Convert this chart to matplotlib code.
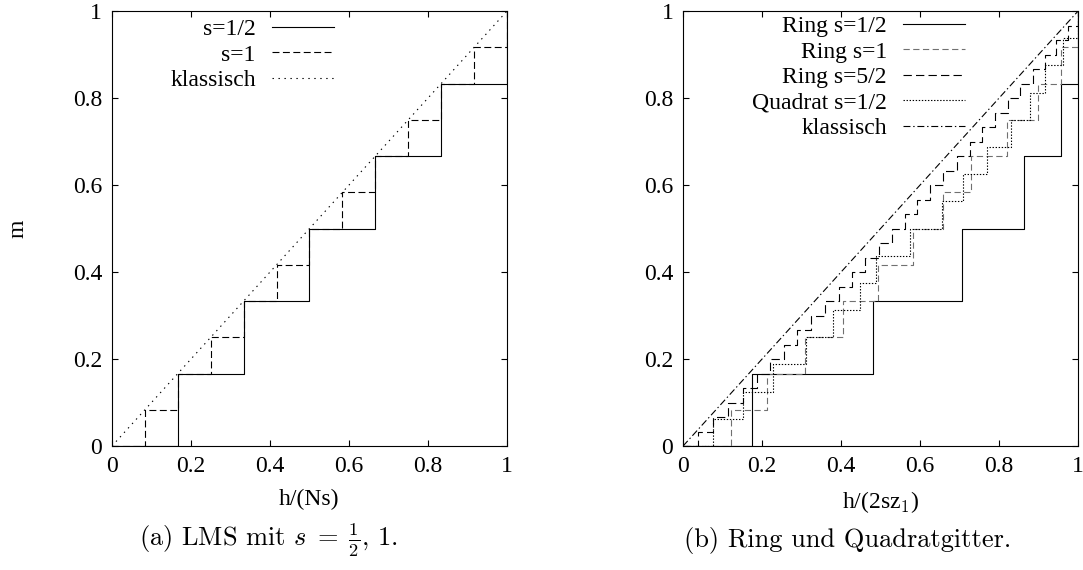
import matplotlib
matplotlib.use("Agg")
import matplotlib.pyplot as plt

plt.rcParams['font.family'] = ['Liberation Serif', 'DejaVu Serif']
plt.rcParams['mathtext.fontset'] = 'cm'
plt.rcParams['lines.scale_dashes'] = False

# ---- data: left panel (LMS) ----
lms_half_h = [1/6, 2/6, 3/6, 4/6, 5/6, 1.0]
lms_half_m = [1/6, 2/6, 3/6, 4/6, 5/6, 1.0]
lms_one_h = [1/12, 2/12, 3/12, 4/12, 5/12, 6/12, 7/12, 8/12, 9/12, 10/12, 11/12, 1.0]
lms_one_m = [1/12, 2/12, 3/12, 4/12, 5/12, 6/12, 7/12, 8/12, 9/12, 10/12, 11/12, 1.0]

# ---- data: right panel (ring and square lattice) ----
ring_half_h = [0.175, 0.480, 0.705, 0.862, 0.957, 1.0]
ring_half_m = [1/6, 2/6, 3/6, 4/6, 5/6, 1.0]

ring_one_h = [0.122, 0.213, 0.310, 0.406, 0.494, 0.582, 0.658, 0.730, 0.820, 0.899, 0.958, 1.0]
ring_one_m = [1/12, 2/12, 3/12, 4/12, 5/12, 6/12, 7/12, 8/12, 9/12, 10/12, 11/12, 1.0]

ring_52_h = [0.039, 0.077, 0.115, 0.153, 0.187, 0.221, 0.256, 0.289, 0.324, 0.359,
             0.394, 0.427, 0.460, 0.496, 0.528, 0.562, 0.593, 0.625, 0.659, 0.693,
             0.727, 0.756, 0.790, 0.823, 0.853, 0.885, 0.917, 0.944, 0.975, 1.0]
ring_52_m = [1/30, 2/30, 3/30, 4/30, 5/30, 6/30, 7/30, 8/30, 9/30, 10/30,
             11/30, 12/30, 13/30, 14/30, 15/30, 16/30, 17/30, 18/30, 19/30, 20/30,
             21/30, 22/30, 23/30, 24/30, 25/30, 26/30, 27/30, 28/30, 29/30, 1.0]

quad_h = [0.076, 0.152, 0.228, 0.311, 0.379, 0.449, 0.489, 0.575,
          0.655, 0.709, 0.770, 0.830, 0.878, 0.916, 0.962, 1.0]
quad_m = [1/16, 2/16, 3/16, 4/16, 5/16, 6/16, 7/16, 8/16,
          9/16, 10/16, 11/16, 12/16, 13/16, 14/16, 15/16, 1.0]

classic = [0.0, 1.0]

ticks = [0, 0.2, 0.4, 0.6, 0.8, 1]
tick_labels = ["0", "0.2", "0.4", "0.6", "0.8", "1"]

LW = 0.8
FS = 17


def stairs(ax, h, m, **kw):
    ax.step([0.0] + h, [0.0] + m, where='post', lw=LW, **kw)


def style_axes(ax):
    ax.set_xlim(0, 1)
    ax.set_ylim(0, 1)
    ax.set_xticks(ticks)
    ax.set_xticklabels(tick_labels)
    ax.set_yticks(ticks)
    ax.set_yticklabels(tick_labels)
    ax.tick_params(direction='in', length=4, width=0.8, top=True, right=True,
                   labelsize=FS, pad=7)
    for sp in ax.spines.values():
        sp.set_linewidth(0.8)


def key(ax, x_end, y_top):
    ax.legend(loc='upper right', bbox_to_anchor=(x_end, y_top), frameon=False,
              fontsize=FS, markerfirst=False, handlelength=2.63, handletextpad=0.68,
              labelspacing=0.17, borderpad=0, borderaxespad=0)


fig = plt.figure(figsize=(10.83, 5.70), dpi=100)
ax1 = fig.add_axes([0.1034, 0.2175, 0.3647, 0.763])
ax2 = fig.add_axes([0.6307, 0.2175, 0.3647, 0.763])

# left panel
stairs(ax1, lms_half_h, lms_half_m, color='black', label='s=1/2')
stairs(ax1, lms_one_h, lms_one_m, color='black', linestyle=(0, (5, 2.5)), label='s=1')
ax1.plot(classic, classic, color='black', lw=LW, linestyle=(0, (1, 3.3)), label='klassisch')
style_axes(ax1)
ax1.set_xlabel("h/(Ns)", fontsize=FS, labelpad=9)
ax1.set_ylabel("m", fontsize=FS, labelpad=32)
key(ax1, 0.562, 0.983)

# right panel
stairs(ax2, ring_half_h, ring_half_m, color='black', label='Ring s=1/2')
stairs(ax2, ring_one_h, ring_one_m, color='#707070', linestyle=(0, (4.5, 2.5)), label='Ring s=1')
stairs(ax2, ring_52_h, ring_52_m, color='black', linestyle=(0, (6, 3)), label='Ring s=5/2')
stairs(ax2, quad_h, quad_m, color='black', linestyle=(0, (1, 1.2)), label='Quadrat s=1/2')
ax2.plot(classic, classic, color='black', lw=LW, linestyle=(0, (5, 2, 1, 2)), label='klassisch')
style_axes(ax2)
ax2.set_xlabel("h/(2sz$_1$)", fontsize=FS, labelpad=9)
key(ax2, 0.714, 0.99)

# captions
fig.text(0.2475, 0.052, r"(a) LMS mit $s\;=\;\frac{1}{2},\,1$.", ha='center', va='center',
         fontsize=19, family='cmr10')
fig.text(0.783, 0.052, "(b) Ring und Quadratgitter.", ha='center', va='center',
         fontsize=19, family='cmr10')

fig.savefig("out.png", dpi=100)
